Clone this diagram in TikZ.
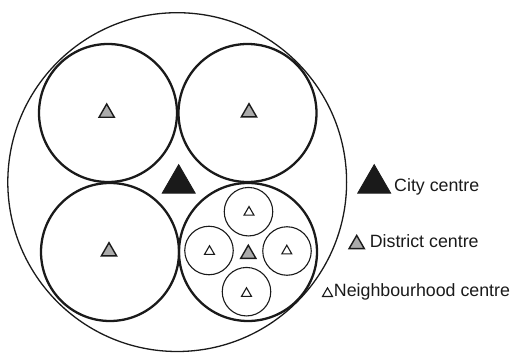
\documentclass[tikz,border=0pt]{standalone}
\usepackage{fontspec}
\setmainfont{Liberation Sans}
\usetikzlibrary{shapes.geometric}
\definecolor{inkline}{HTML}{1A1A1A}
\definecolor{districtgrey}{HTML}{ABABAB}
\begin{document}
\begin{tikzpicture}[x=1pt,y=-1pt,
  region/.style={circle,draw=inkline,inner sep=0pt,outer sep=0pt},
  cityzone/.style={region,line width=1.3pt,minimum size=338.8pt},
  districtzone/.style={region,line width=2.3pt,minimum size=138pt},
  hoodzone/.style={region,line width=1.1pt,minimum size=48.5pt},
  tri/.style={regular polygon,regular polygon sides=3,inner sep=0pt,outer sep=0pt,line join=miter},
  citytri/.style={tri,draw=inkline,fill=inkline,line width=0.8pt,minimum size=38pt},
  districttri/.style={tri,draw=inkline,fill=districtgrey,line width=1.4pt,minimum size=17.6pt},
  hoodtri/.style={tri,draw=inkline,fill=white,line width=1.1pt,minimum size=11.5pt},
  legendtext/.style={anchor=base west,inner sep=0pt,text=inkline,font=\fontsize{17.8}{20}\selectfont}
]
\useasboundingbox (0,0) rectangle (517,353);

% city
\node[cityzone] (city) at (177.2,182.1) {};

% districts
\node[districtzone] (dTL) at (108,113) {};
\node[districtzone] (dTR) at (247.5,113) {};
\node[districtzone] (dBL) at (110,252) {};
\node[districtzone] (dBR) at (248,252) {};

% neighbourhoods in the south-east district
\node[hoodzone] (nN) at (248.5,211.7) {};
\node[hoodzone] (nW) at (209,250.5) {};
\node[hoodzone] (nE) at (287,251) {};
\node[hoodzone] (nS) at (246.5,291.7) {};

% centres
\node[citytri] (cc) at (178.7,183.6) {};
\node[districttri] (cTL) at (106.7,112.8) {};
\node[districttri] (cTR) at (249,112.5) {};
\node[districttri] (cBL) at (109,251.5) {};
\node[districttri] (cBR) at (248.3,254) {};
\node[hoodtri] (hN) at (249,212.3) {};
\node[hoodtri] (hW) at (209.5,251.5) {};
\node[hoodtri] (hE) at (286.8,251) {};
\node[hoodtri] (hS) at (246.5,293.5) {};

% legend
\node[citytri] (kCity) at (374.2,183.6) {};
\node[legendtext] (tCity) at (394,191.7) {City centre};
\node[districttri] (kDistrict) at (356.7,244.2) {};
\node[legendtext] (tDistrict) at (369.6,247.7) {District centre};
\node[hoodtri] (kHood) at (327.5,293.6) {};
\node[legendtext] (tHood) at (333.7,296.7) {Neighbourhood centre};
\end{tikzpicture}
\end{document}
